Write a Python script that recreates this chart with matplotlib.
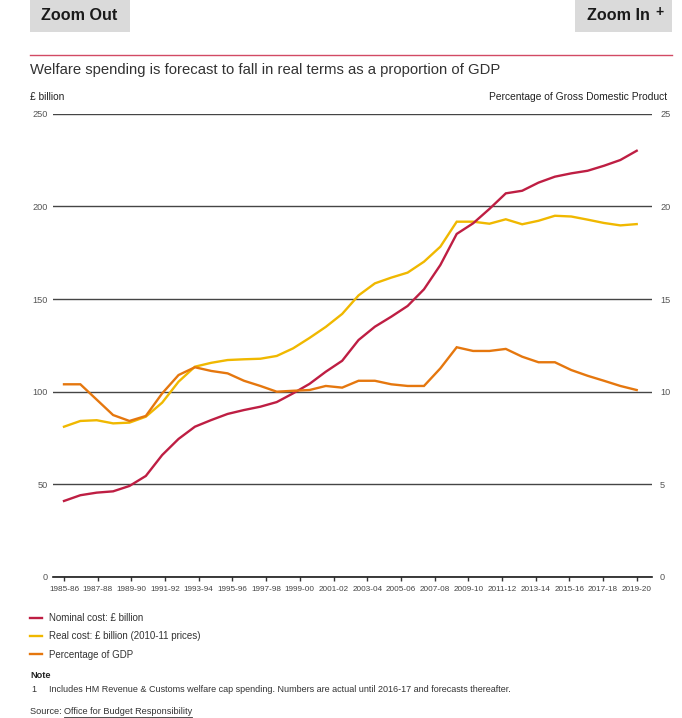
import numpy as np
import matplotlib
matplotlib.use("Agg")
import matplotlib.pyplot as plt
from matplotlib.patches import Rectangle
from matplotlib.lines import Line2D

plt.rcParams['font.family'] = ['Liberation Sans', 'DejaVu Sans']

# ---------------- data ----------------
tick_labels = ["1985-86", "1987-88", "1989-90", "1991-92", "1993-94", "1995-96",
               "1997-98", "1999-00", "2001-02", "2003-04", "2005-06", "2007-08",
               "2009-10", "2011-12", "2013-14", "2015-16", "2017-18", "2019-20"]

nominal = [41.0, 44.1, 45.5, 46.2, 49.1, 54.5, 65.8, 74.5, 81.1, 84.7,
           88.0, 90.1, 91.9, 94.4, 99.1, 104.2, 110.8, 116.7, 127.9, 135.1,
           140.5, 146.3, 155.3, 168.4, 185.2, 190.9, 198.7, 207.1, 208.5, 212.9,
           216.1, 217.9, 219.3, 222.0, 225.1, 230.1]

real = [81.1, 84.2, 84.6, 82.9, 83.3, 86.5, 94.1, 105.4, 113.5, 115.6,
        117.1, 117.5, 117.8, 119.3, 123.4, 129.0, 135.0, 142.0, 152.0, 158.5,
        161.6, 164.3, 170.2, 178.3, 191.8, 191.8, 190.7, 193.1, 190.4, 192.3,
        195.0, 194.6, 192.9, 191.1, 189.8, 190.5]

pct_gdp = [10.40, 10.40, 9.57, 8.74, 8.42, 8.69, 9.91, 10.90, 11.32, 11.12,
           10.99, 10.59, 10.31, 10.00, 10.05, 10.09, 10.31, 10.22, 10.59, 10.59,
           10.40, 10.31, 10.31, 11.26, 12.40, 12.20, 12.20, 12.31, 11.89, 11.59,
           11.59, 11.17, 10.86, 10.59, 10.31, 10.09]

series_labels = ["Nominal cost: £ billion", "Real cost: £ billion (2010-11 prices)",
                 "Percentage of GDP"]
colors = ["#BE1E43", "#F0B800", "#E5770E"]

# ---------------- layout ----------------
W, H = 682, 718
fig = plt.figure(figsize=(W / 100, H / 100), dpi=100)


def fx(x):
    return x / W


def fy(y):
    return 1 - y / H


ax_l, ax_r, ax_t, ax_b = 53, 652, 113.9, 576.9
ax = fig.add_axes([fx(ax_l), fy(ax_b), (ax_r - ax_l) / W, (ax_b - ax_t) / H])
ax2 = ax.twinx()

x = np.arange(len(nominal))
n = len(nominal) - 1
step = (636.7 - 64) / n
ax.set_xlim(-(64 - ax_l) / step, n + (ax_r - 636.7) / step)
ax.set_ylim(0, 250)
ax2.set_ylim(0, 25)

l1, = ax.plot(x, nominal, color=colors[0], lw=1.7, solid_joinstyle='miter', zorder=5)
l2, = ax.plot(x, real, color=colors[1], lw=1.7, solid_joinstyle='miter', zorder=4)
l3, = ax2.plot(x, pct_gdp, color=colors[2], lw=1.7, solid_joinstyle='miter', zorder=4)

ax.set_yticks([0, 50, 100, 150, 200, 250])
ax2.set_yticks([0, 5, 10, 15, 20, 25])
ax.set_xticks(np.linspace(0, n, len(tick_labels)))
ax.set_xticklabels(tick_labels)

for a in (ax, ax2):
    for s in ("left", "right", "top"):
        a.spines[s].set_visible(False)
ax2.spines["bottom"].set_visible(False)
ax.spines["bottom"].set_color("#1a1a1a")
ax.spines["bottom"].set_linewidth(1.2)

ax.yaxis.grid(True, color="#454545", lw=1.0)
ax.set_axisbelow(True)
ax.tick_params(axis="y", length=0, pad=4.0, labelsize=6.6, labelcolor="#555555")
ax2.tick_params(axis="y", length=0, pad=5.8, labelsize=6.6, labelcolor="#555555")
ax.tick_params(axis="x", length=3, width=1, color="#333333", pad=3.6,
               labelsize=5.9, labelcolor="#444444")

# ---------------- header ----------------
fig.patches.append(Rectangle((fx(30), fy(32)), 100 / W, 32 / H, transform=fig.transFigure,
                             facecolor="#DADADA", edgecolor="none"))
fig.patches.append(Rectangle((fx(575), fy(32)), 97 / W, 32 / H, transform=fig.transFigure,
                             facecolor="#DADADA", edgecolor="none"))
fig.text(fx(79), fy(15), "Zoom Out", ha="center", va="center", fontsize=11.6,
         fontweight="bold", color="#1a1a1a")
fig.text(fx(618.5), fy(15), "Zoom In", ha="center", va="center", fontsize=11.6,
         fontweight="bold", color="#1a1a1a")
fig.text(fx(659), fy(12), "+", ha="center", va="center", fontsize=10,
         fontweight="bold", color="#1a1a1a")

fig.add_artist(Line2D([fx(30), fx(672)], [fy(55), fy(55)], transform=fig.transFigure,
                      color="#D24A64", lw=1.0))

fig.text(fx(30), fy(70), "Welfare spending is forecast to fall in real terms as a proportion of GDP",
         ha="left", va="center", fontsize=10.7, color="#333333")
fig.text(fx(30), fy(97), "£ billion", ha="left", va="center", fontsize=7.3, color="#222222")
fig.text(fx(667), fy(97), "Percentage of Gross Domestic Product", ha="right", va="center",
         fontsize=7.4, color="#222222")

# ---------------- legend ----------------
leg = fig.legend([l1, l2, l3], series_labels, loc="upper left",
                 bbox_to_anchor=(fx(30), fy(613)), frameon=False, fontsize=7.0,
                 handlelength=1.2, handletextpad=0.75, labelspacing=0.85,
                 borderpad=0, borderaxespad=0)
for t in leg.get_texts():
    t.set_color("#333333")

# ---------------- notes ----------------
fig.text(fx(30), fy(675), "Note", ha="left", va="center", fontsize=6.6,
         fontweight="bold", color="#222222")
fig.text(fx(31), fy(689), "1", ha="left", va="center", fontsize=6.5, color="#333333")
fig.text(fx(49), fy(689), "Includes HM Revenue & Customs welfare cap spending. Numbers are actual "
         "until 2016-17 and forecasts thereafter.", ha="left", va="center", fontsize=6.5,
         color="#333333")
src = fig.text(fx(30), fy(712), "Source: ", ha="left", va="center", fontsize=6.6, color="#333333")
fig.canvas.draw()
r = fig.canvas.get_renderer()
bb = src.get_window_extent(r)
link_x = bb.x1 / (fig.get_figwidth() * fig.dpi)
link = fig.text(link_x, fy(712), "Office for Budget Responsibility", ha="left", va="center",
                fontsize=6.6, color="#333333")
fig.canvas.draw()
lb = link.get_window_extent(r)
uy = (lb.y0 - 0.5) / (fig.get_figheight() * fig.dpi)
fig.add_artist(Line2D([lb.x0 / W, lb.x1 / W], [uy, uy], transform=fig.transFigure,
                      color="#333333", lw=0.6))

fig.savefig("out.png", dpi=100)
